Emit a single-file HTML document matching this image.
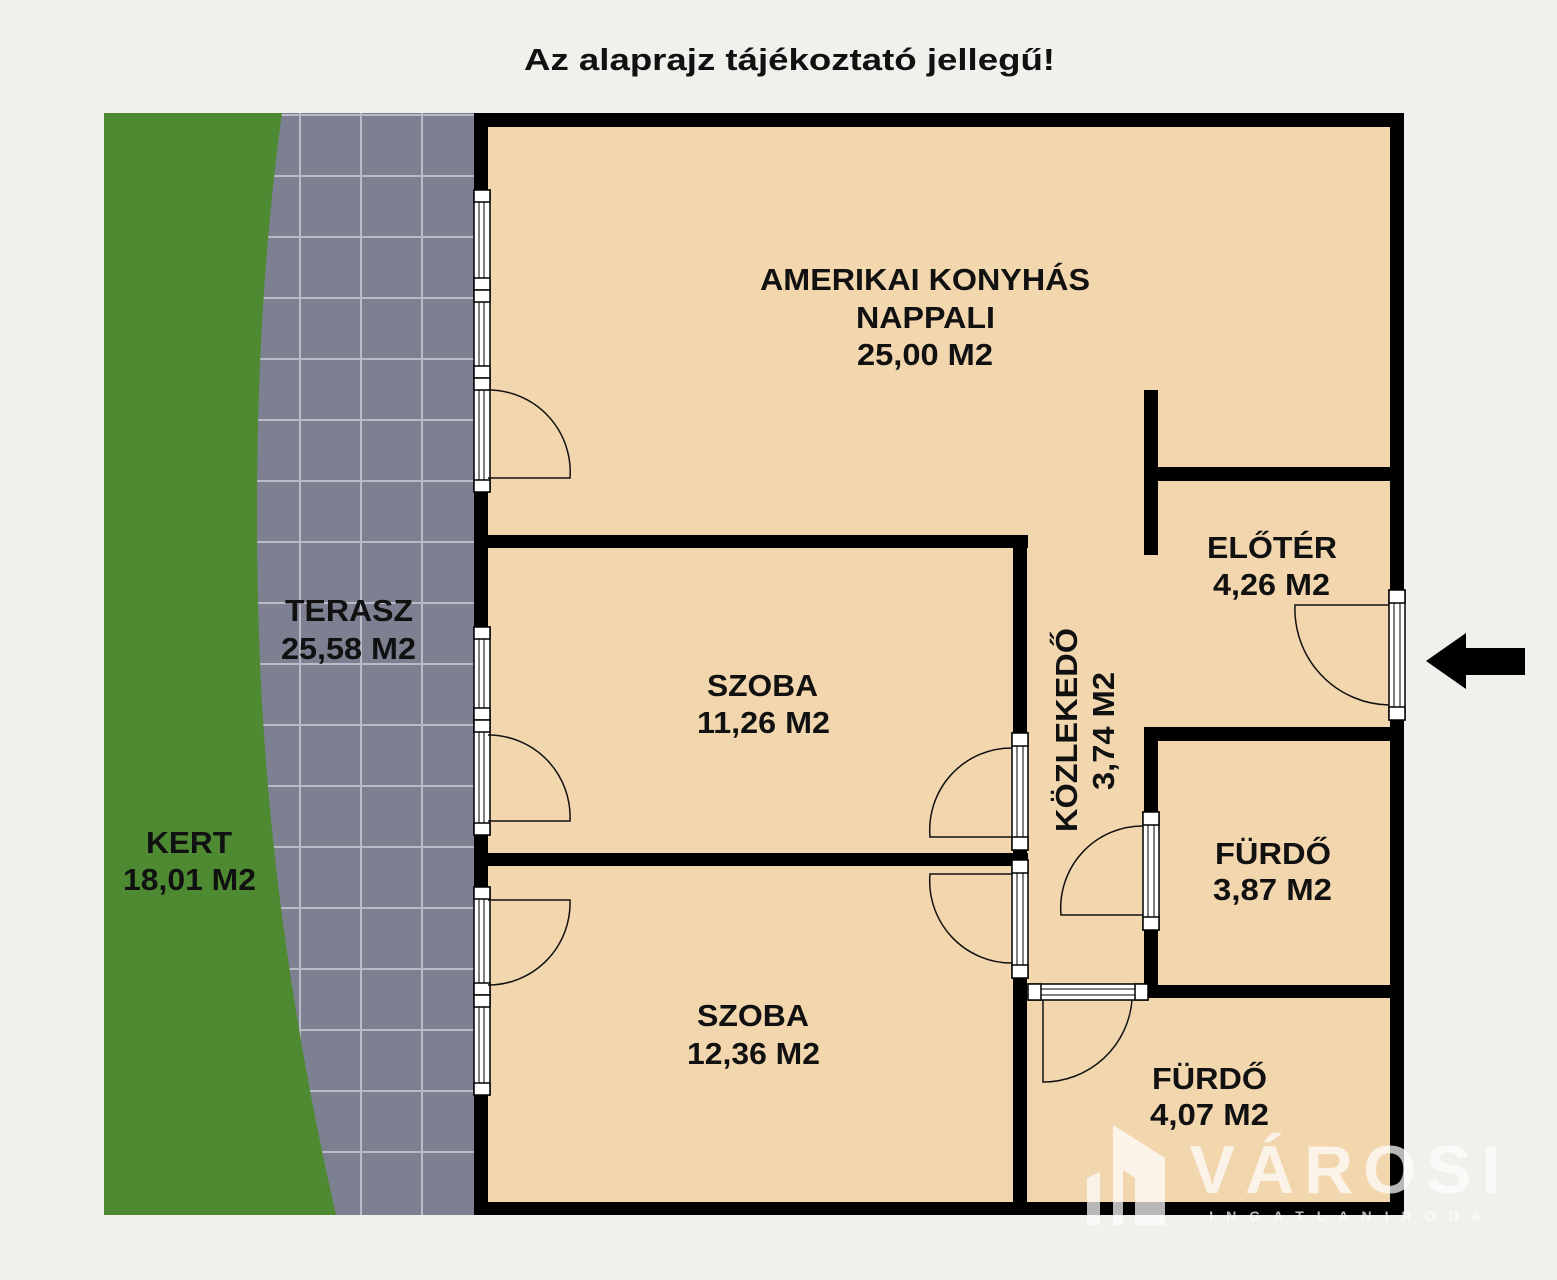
<!DOCTYPE html>
<html><head><meta charset="utf-8">
<style>
html,body{margin:0;padding:0;background:#f1f0ec;}
svg{display:block;}
text{font-family:"Liberation Sans",sans-serif;font-weight:bold;}
</style></head>
<body>
<svg width="1557" height="1280" viewBox="0 0 1557 1280" xmlns="http://www.w3.org/2000/svg">
<rect width="1557" height="1280" fill="#f1f0ec"/>
<text x="524" y="70" font-size="31" textLength="531" lengthAdjust="spacingAndGlyphs" fill="#111">Az alaprajz tájékoztató jellegű!</text>

<!-- terrace tiles -->
<rect x="104" y="113" width="372" height="1102" fill="#7d8091"/>
<g stroke="#b9bbc6" stroke-width="2">
<line x1="300" y1="113" x2="300" y2="1215"/><line x1="361" y1="113" x2="361" y2="1215"/><line x1="422" y1="113" x2="422" y2="1215"/>
<line x1="104" y1="115" x2="476" y2="115"/><line x1="104" y1="176" x2="476" y2="176"/><line x1="104" y1="237" x2="476" y2="237"/><line x1="104" y1="298" x2="476" y2="298"/><line x1="104" y1="359" x2="476" y2="359"/><line x1="104" y1="420" x2="476" y2="420"/><line x1="104" y1="481" x2="476" y2="481"/><line x1="104" y1="542" x2="476" y2="542"/><line x1="104" y1="603" x2="476" y2="603"/><line x1="104" y1="664" x2="476" y2="664"/><line x1="104" y1="725" x2="476" y2="725"/><line x1="104" y1="786" x2="476" y2="786"/><line x1="104" y1="847" x2="476" y2="847"/><line x1="104" y1="908" x2="476" y2="908"/><line x1="104" y1="969" x2="476" y2="969"/><line x1="104" y1="1030" x2="476" y2="1030"/><line x1="104" y1="1091" x2="476" y2="1091"/><line x1="104" y1="1152" x2="476" y2="1152"/>
</g>
<!-- grass -->
<path d="M104,113 L282,113 Q252,330 258,600 Q264,900 336,1215 L104,1215 Z" fill="#4d8a32"/>

<!-- floor -->
<rect x="476" y="115" width="922" height="1094" fill="#f2d6ae"/>

<!-- walls -->
<g fill="#000">
<rect x="474" y="113" width="930" height="14"/>
<rect x="474" y="113" width="14" height="1102"/>
<rect x="474" y="1202" width="930" height="13"/>
<rect x="1390" y="113" width="14" height="1102"/>
<rect x="474" y="535" width="554" height="13"/>
<rect x="1013" y="535" width="14" height="680"/>
<rect x="474" y="853" width="554" height="13"/>
<rect x="1144" y="390" width="14" height="165"/>
<rect x="1144" y="467" width="260" height="14"/>
<rect x="1144" y="727" width="14" height="271"/>
<rect x="1144" y="727" width="260" height="14"/>
<rect x="1144" y="985" width="260" height="13"/>
</g>

<!-- windows / door frames -->
<g fill="#fff" stroke="#000" stroke-width="1.5">
<rect x="474" y="190" width="16" height="100"/><rect x="474" y="290" width="16" height="88"/><rect x="474" y="378" width="16" height="114"/>
<rect x="474" y="627" width="16" height="93"/><rect x="474" y="720" width="16" height="115"/>
<rect x="474" y="887" width="16" height="108"/><rect x="474" y="995" width="16" height="100"/>
<rect x="1012" y="733" width="16" height="117"/><rect x="1012" y="860" width="16" height="118"/>
<rect x="1143" y="812" width="16" height="118"/>
<rect x="1389" y="590" width="16" height="130"/>
<rect x="1028" y="984" width="120" height="16"/>
</g>
<g stroke="#000" stroke-width="1" fill="none">
<path d="M479,190V290M484,190V290M479,290V378M484,290V378M479,378V492M484,378V492"/>
<path d="M479,627V720M484,627V720M479,720V835M484,720V835M479,887V995M484,887V995M479,995V1095M484,995V1095"/>
<path d="M1017,733V850M1023,733V850M1017,860V978M1023,860V978M1148,812V930M1154,812V930M1394,590V720M1400,590V720M1028,989H1148M1028,995H1148"/>
</g>
<g fill="#fff" stroke="#000" stroke-width="1.5">
<rect x="474" y="190" width="16" height="12"/><rect x="474" y="278" width="16" height="12"/><rect x="474" y="290" width="16" height="12"/><rect x="474" y="366" width="16" height="12"/><rect x="474" y="378" width="16" height="12"/><rect x="474" y="480" width="16" height="12"/>
<rect x="474" y="627" width="16" height="12"/><rect x="474" y="708" width="16" height="12"/><rect x="474" y="720" width="16" height="12"/><rect x="474" y="823" width="16" height="12"/>
<rect x="474" y="887" width="16" height="12"/><rect x="474" y="983" width="16" height="12"/><rect x="474" y="995" width="16" height="12"/><rect x="474" y="1083" width="16" height="12"/>
<rect x="1012" y="733" width="16" height="13"/><rect x="1012" y="837" width="16" height="13"/><rect x="1012" y="860" width="16" height="13"/><rect x="1012" y="965" width="16" height="13"/>
<rect x="1143" y="812" width="16" height="13"/><rect x="1143" y="917" width="16" height="13"/>
<rect x="1389" y="590" width="16" height="13"/><rect x="1389" y="707" width="16" height="13"/>
<rect x="1028" y="984" width="13" height="16"/><rect x="1135" y="984" width="13" height="16"/>
</g>

<!-- door swings -->
<g stroke="#111" stroke-width="1.5" fill="none">
<path d="M488,478H570A82,82 0 0 0 488,390"/>
<path d="M488,821H570A82,82 0 0 0 488,735"/>
<path d="M488,900H570A82,82 0 0 1 488,985"/>
<path d="M1012,837H930A82,82 0 0 1 1012,748"/>
<path d="M1012,874H930A82,82 0 0 0 1012,963"/>
<path d="M1143,915H1061A82,82 0 0 1 1143,826"/>
<path d="M1043,1000V1082A89,89 0 0 0 1132,1000"/>
<path d="M1389,605H1295A96,96 0 0 0 1389,705"/>
</g>

<!-- arrow -->
<path d="M1426,661 L1466,633 L1466,648 L1525,648 L1525,675 L1466,675 L1466,689 Z" fill="#000"/>

<!-- labels -->
<g font-size="31" fill="#111" lengthAdjust="spacingAndGlyphs">
<text x="760" y="290" textLength="330" lengthAdjust="spacingAndGlyphs">AMERIKAI KONYHÁS</text>
<text x="856" y="328" textLength="139" lengthAdjust="spacingAndGlyphs">NAPPALI</text>
<text x="857" y="365" textLength="136" lengthAdjust="spacingAndGlyphs">25,00 M2</text>
<text x="1207" y="558" textLength="130" lengthAdjust="spacingAndGlyphs">ELŐTÉR</text>
<text x="1213" y="595" textLength="117" lengthAdjust="spacingAndGlyphs">4,26 M2</text>
<text x="285" y="621" textLength="128" lengthAdjust="spacingAndGlyphs">TERASZ</text>
<text x="281" y="659" textLength="135" lengthAdjust="spacingAndGlyphs">25,58 M2</text>
<text x="707" y="696" textLength="111" lengthAdjust="spacingAndGlyphs">SZOBA</text>
<text x="697" y="733" textLength="133" lengthAdjust="spacingAndGlyphs">11,26 M2</text>
<text x="1215" y="864" textLength="116" lengthAdjust="spacingAndGlyphs">FÜRDŐ</text>
<text x="1213" y="900" textLength="119" lengthAdjust="spacingAndGlyphs">3,87 M2</text>
<text x="146" y="853" textLength="86" lengthAdjust="spacingAndGlyphs">KERT</text>
<text x="123" y="890" textLength="133" lengthAdjust="spacingAndGlyphs">18,01 M2</text>
<text x="697" y="1026" textLength="112" lengthAdjust="spacingAndGlyphs">SZOBA</text>
<text x="687" y="1064" textLength="133" lengthAdjust="spacingAndGlyphs">12,36 M2</text>
<text x="1152" y="1089" textLength="115" lengthAdjust="spacingAndGlyphs">FÜRDŐ</text>
<text x="1150" y="1125" textLength="119" lengthAdjust="spacingAndGlyphs">4,07 M2</text>
<text transform="translate(1077,832) rotate(-90)" textLength="204" lengthAdjust="spacingAndGlyphs">KÖZLEKEDŐ</text>
<text transform="translate(1114,790) rotate(-90)" textLength="118" lengthAdjust="spacingAndGlyphs">3,74 M2</text>
</g>

<!-- watermark -->
<g fill="#fff" opacity="0.72">
<path d="M1113,1125 L1165,1158 L1165,1225 L1135,1225 L1135,1178 L1123,1170 L1123,1225 L1113,1225 Z"/>
<path d="M1087,1178 L1100,1172 L1100,1225 L1087,1225 Z"/>
<text x="1350" y="1193" font-size="68" text-anchor="middle" letter-spacing="10" font-weight="bold">VÁROSI</text>
<text x="1352" y="1221" font-size="14" text-anchor="middle" letter-spacing="13" font-weight="normal">INGATLANIRODA</text>
</g>
</svg>
</body></html>
